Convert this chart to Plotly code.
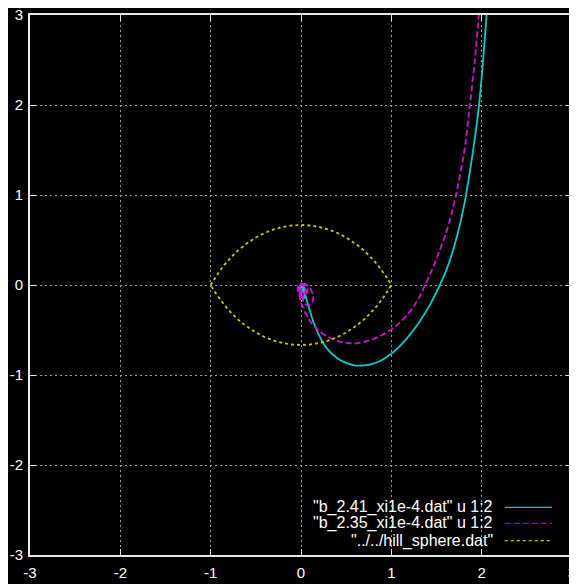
import plotly.graph_objects as go

# ---- data ----
cyan_x = [0.0, 0.02, 0.04, 0.03, 0.0, -0.01, 0.01, 0.04, 0.05, 0.03, 0.0, 0.02, 0.045, 0.063,
          0.09, 0.118, 0.145, 0.174, 0.21, 0.247, 0.30, 0.358, 0.432, 0.506, 0.58, 0.653, 0.76,
          0.875, 1.0, 1.085, 1.17, 1.25, 1.32, 1.43, 1.537, 1.61, 1.67, 1.73, 1.778, 1.823,
          1.90, 1.967, 2.012, 2.055]
cyan_y = [0.0, -0.03, -0.09, -0.14, -0.12, -0.06, -0.01, -0.04, -0.10, -0.15, -0.11, -0.05, -0.10,
          -0.167, -0.26, -0.352, -0.43, -0.50, -0.58, -0.648, -0.72, -0.778, -0.833, -0.868, -0.889,
          -0.896, -0.885, -0.845, -0.764, -0.687, -0.595, -0.495, -0.397, -0.215, 0.0, 0.168,
          0.342, 0.552, 0.754, 0.98, 1.46, 1.96, 2.45, 3.0]

mag_x = [0.0, 0.04, 0.07, 0.06, 0.02, -0.03, -0.035, 0.0, 0.04, 0.06, 0.04, 0.0, -0.02,
         0.0, 0.03, 0.05, 0.03, 0.0, -0.02, 0.0,
         0.05, 0.10, 0.13, 0.135, 0.11, 0.07, 0.03, 0.01, 0.0, -0.02, -0.015, 0.0, 0.02,
         0.044, 0.08, 0.118, 0.16, 0.21, 0.28, 0.358, 0.432, 0.52, 0.618, 0.71, 0.80, 0.90, 1.0,
         1.09, 1.17, 1.25, 1.32, 1.375, 1.45, 1.53, 1.605, 1.665, 1.716, 1.81, 1.87, 1.925,
         1.968]
mag_y = [0.0, 0.015, -0.04, -0.10, -0.13, -0.09, -0.02, 0.02, -0.01, -0.07, -0.11, -0.10,
         -0.04, 0.01, -0.02, -0.06, -0.09, -0.08, -0.03, 0.01,
         0.01, -0.03, -0.10, -0.16, -0.21, -0.23, -0.19, -0.12, -0.05, -0.06,
         -0.13, -0.20, -0.24, -0.30, -0.37, -0.426, -0.475, -0.519, -0.565, -0.603, -0.63,
         -0.645, -0.648, -0.63, -0.60, -0.555, -0.495, -0.42, -0.34, -0.235, -0.115, 0.0, 0.167,
         0.37, 0.574, 0.79, 1.0, 1.5, 2.0, 2.5, 3.0]

hill_x = [-1.0, -0.98, -0.95, -0.9, -0.85, -0.8, -0.75, -0.7, -0.65, -0.6, -0.5, -0.4, -0.3,
          -0.2, -0.1, 0.0, 0.1, 0.2, 0.3, 0.4, 0.5, 0.6, 0.65, 0.7, 0.75, 0.8, 0.85, 0.9, 0.95,
          0.98, 1.0,
          0.98, 0.95, 0.9, 0.85, 0.8, 0.75, 0.7, 0.65, 0.6, 0.5, 0.4, 0.3, 0.2, 0.1, 0.0, -0.1,
          -0.2, -0.3, -0.4, -0.5, -0.6, -0.65, -0.7, -0.75, -0.8, -0.85, -0.9, -0.95, -0.98, -1.0]
hill_y = [0.0, 0.034, 0.082, 0.155, 0.221, 0.280, 0.333, 0.381, 0.424, 0.462, 0.528, 0.580,
          0.618, 0.645, 0.661, 0.667, 0.661, 0.645, 0.618, 0.580, 0.528, 0.462, 0.424, 0.381,
          0.333, 0.280, 0.221, 0.155, 0.082, 0.034, 0.0,
          -0.034, -0.082, -0.155, -0.221, -0.280, -0.333, -0.381, -0.424, -0.462, -0.528,
          -0.580, -0.618, -0.645, -0.661, -0.667, -0.661, -0.645, -0.618, -0.580, -0.528,
          -0.462, -0.424, -0.381, -0.333, -0.280, -0.221, -0.155, -0.082, -0.034, 0.0]

series_names = ['"b_2.41_xi1e-4.dat" u 1:2',
                '"b_2.35_xi1e-4.dat" u 1:2',
                '"../../hill_sphere.dat"']
tick_vals = [-3, -2, -1, 0, 1, 2, 3]
tick_text = ["-3", "-2", "-1", "0", "1", "2", "3"]

CYAN = "#10c8c8"
MAG = "#d010d0"
YEL = "#c8c800"
FONT = "Liberation Sans"

fig = go.Figure()
fig.add_trace(go.Scatter(x=cyan_x, y=cyan_y, mode="lines", name=series_names[0],
                         line=dict(color=CYAN, width=1.8, shape="spline", smoothing=0.6)))
fig.add_trace(go.Scatter(x=mag_x, y=mag_y, mode="lines", name=series_names[1],
                         line=dict(color=MAG, width=1.8, dash="6px,3px", shape="spline", smoothing=0.6)))
fig.add_trace(go.Scatter(x=hill_x, y=hill_y, mode="lines", name=series_names[2],
                         line=dict(color=YEL, width=1.8, dash="3px,3px")))

axis_common = dict(range=[-3, 3], tickvals=tick_vals, ticktext=tick_text, ticks="inside",
                   ticklen=6, tickcolor="#e8e8e8", tickwidth=1, showline=True,
                   linecolor="#e8e8e8", linewidth=2, mirror="ticks", showgrid=True,
                   gridcolor="#a0a0a0", griddash="2px,3px", gridwidth=1, zeroline=False,
                   automargin=False, ticklabeloverflow="allow",
                   tickfont=dict(family=FONT, size=15, color="white"))
fig.update_xaxes(**axis_common, ticklabelstandoff=3)
fig.update_yaxes(**axis_common, ticklabelstandoff=2)

# manual gnuplot-style legend (text right-aligned, sample on the right)
leg_rows = [0.0883, 0.0587, 0.0265]
leg_styles = [dict(color=CYAN, width=1.3),
              dict(color="#a000a0", width=1.3, dash="6px,3px"),
              dict(color=YEL, width=1.3, dash="3px,3px")]
shapes = []
annotations = []
for name, yy, st in zip(series_names, leg_rows, leg_styles):
    annotations.append(dict(x=0.858, y=yy, xref="paper", yref="paper", text=name,
                            showarrow=False, xanchor="right", yanchor="middle",
                            font=dict(family=FONT, size=16, color="white")))
    shapes.append(dict(type="line", xref="paper", yref="paper", x0=0.876, x1=0.963,
                       y0=yy, y1=yy, line=st))

# the page body adds an 8px offset; the figure is sized to fit the remaining window
fig.update_layout(width=569, height=576, margin=dict(l=22, r=5, t=7, b=29),
                  paper_bgcolor="black", plot_bgcolor="black", showlegend=False,
                  shapes=shapes, annotations=annotations)

fig.write_html("out.html")
